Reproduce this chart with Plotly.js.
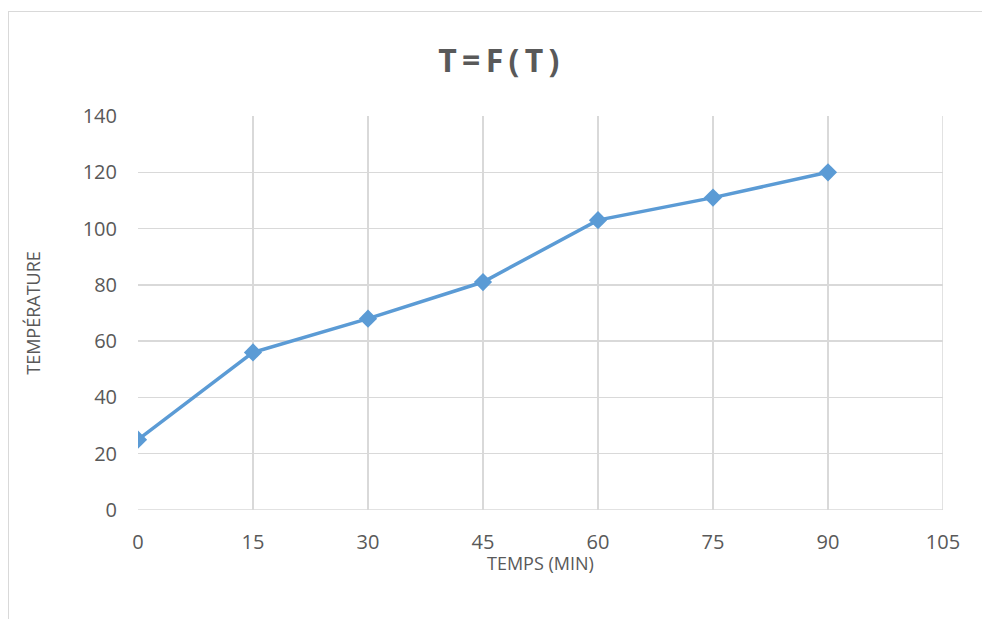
<!DOCTYPE html>
<html><head><meta charset="utf-8">
<script src="https://cdn.plot.ly/plotly-3.0.1.min.js"></script>
<style>
html,body{margin:0;padding:0;background:#fff;}
#frame{position:absolute;left:8px;top:11px;width:1000px;height:700px;border:1.5px solid #d9d9d9;}
#chart{position:absolute;left:0;top:0;width:982px;height:619px;}
</style></head>
<body>
<div id="frame"></div>
<div id="chart"></div>
<script>
const timeMin = [0, 15, 30, 45, 60, 75, 90];
const temperature = [25, 56, 68, 81, 103, 111, 120];
const xTicks = [0, 15, 30, 45, 60, 75, 90, 105];
const yTicks = [0, 20, 40, 60, 80, 100, 120, 140];
const xTitle = 'TEMPS (MIN)';
const yTitle = 'TEMPÉRATURE';

const fam = 'Open Sans, Liberation Sans, sans-serif';
const col = '#595959';

Plotly.newPlot('chart', [{
  x: timeMin, y: temperature, type: 'scatter', mode: 'lines+markers',
  line: {color: '#5b9bd5', width: 3.5},
  marker: {symbol: 'diamond', size: 14, color: '#5b9bd5'},
  hoverinfo: 'skip'
}], {
  width: 982, height: 619,
  paper_bgcolor: 'rgba(0,0,0,0)', plot_bgcolor: 'rgba(0,0,0,0)',
  margin: {l: 138, r: 39, t: 116, b: 109},
  showlegend: false,
  title: {text: '<b>T\u2009=\u2009F\u2009(\u2009T\u2009)</b>', x: 0.508, xanchor: 'center', y: 0.902, yanchor: 'middle',
          font: {family: fam, size: 32, color: col}},
  xaxis: {
    range: [0, 105], tickvals: xTicks, ticktext: xTicks.map(String),
    showgrid: true, gridcolor: '#d9d9d9', gridwidth: 1.5,
    zeroline: false, showline: false, ticks: '',
    ticklabelstandoff: 18,
    tickfont: {family: fam, size: 20, color: col},
    automargin: false, fixedrange: true
  },
  yaxis: {
    range: [0, 140], tickvals: yTicks, ticktext: yTicks.map(String),
    showgrid: true, gridcolor: '#d9d9d9', gridwidth: 1.5,
    zeroline: false, showline: false, ticks: '',
    ticklabelstandoff: 20,
    tickfont: {family: fam, size: 20, color: col},
    title: {text: yTitle, standoff: 37, font: {family: fam, size: 18, color: col}},
    automargin: false, fixedrange: true
  },
  annotations: [
    {text: xTitle, xref: 'x', yref: 'paper', x: 52.5, y: -0.134, xanchor: 'center', yanchor: 'middle',
     showarrow: false, font: {family: fam, size: 18, color: col}}
  ],
  shapes: [
    {type: 'line', xref: 'x', yref: 'y', x0: 105, x1: 105, y0: 0, y1: 140, line: {color: '#d9d9d9', width: 1.5}},
    {type: 'line', xref: 'x', yref: 'y', x0: 0, x1: 105, y0: 0, y1: 0, line: {color: '#d9d9d9', width: 1.5}}
  ]
}, {displayModeBar: false, staticPlot: true});
</script>
</body></html>
